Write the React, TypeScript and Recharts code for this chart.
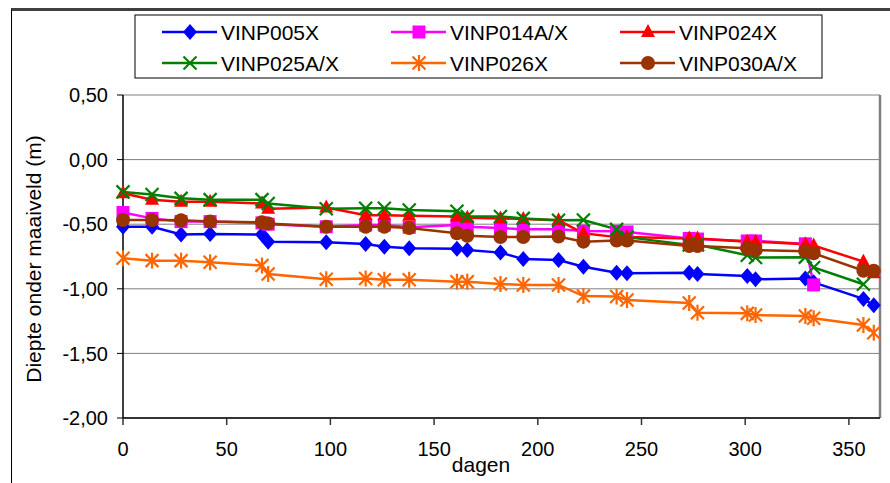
import React from 'react';
import { LineChart, Line, XAxis, YAxis, CartesianGrid, ReferenceLine, Label } from 'recharts';

// Measurement days
const days = [0, 14, 28, 42, 67, 70, 98, 117, 126, 138, 161, 166, 182, 193, 210, 222, 238, 243, 273, 277, 301, 305, 329, 333, 357, 362];

// Depth below ground level (m) per piezometer
const vinp005x = [-0.52, -0.52, -0.58, -0.575, -0.58, -0.635, -0.64, -0.653, -0.674, -0.687, -0.69, -0.7, -0.72, -0.77, -0.777, -0.829, -0.875, -0.88, -0.875, -0.885, -0.9, -0.926, -0.92, -0.95, -1.078, -1.128];
const vinp014ax = [-0.41, -0.455, -0.48, -0.48, -0.49, -0.5, -0.52, -0.506, -0.506, -0.524, -0.506, -0.52, -0.53, -0.54, -0.54, -0.553, -0.555, -0.56, -0.61, -0.615, -0.63, -0.63, -0.652, -0.97, null, null];
const vinp024x = [-0.26, -0.31, -0.326, -0.326, -0.34, -0.38, -0.37, -0.43, -0.43, -0.435, -0.44, -0.45, -0.455, -0.46, -0.47, -0.57, -0.6, -0.6, -0.61, -0.61, -0.635, -0.635, -0.655, -0.665, -0.79, -0.88];
const vinp025ax = [-0.25, -0.27, -0.3, -0.31, -0.31, -0.34, -0.38, -0.377, -0.377, -0.39, -0.4, -0.44, -0.44, -0.455, -0.47, -0.467, -0.54, -0.6, -0.66, -0.66, -0.74, -0.758, -0.755, -0.835, -0.965, null];
const vinp026x = [-0.764, -0.782, -0.782, -0.795, -0.82, -0.885, -0.926, -0.92, -0.93, -0.93, -0.945, -0.945, -0.963, -0.97, -0.97, -1.056, -1.06, -1.087, -1.11, -1.185, -1.19, -1.203, -1.21, -1.228, -1.28, -1.34];
const vinp030ax = [-0.467, -0.467, -0.47, -0.48, -0.485, -0.495, -0.52, -0.52, -0.52, -0.53, -0.57, -0.59, -0.6, -0.6, -0.595, -0.635, -0.627, -0.627, -0.669, -0.669, -0.687, -0.7, -0.71, -0.725, -0.86, -0.86];

const seriesNames = ['VINP005X', 'VINP014A/X', 'VINP024X', 'VINP025A/X', 'VINP026X', 'VINP030A/X'];
const seriesValues = [vinp005x, vinp014ax, vinp024x, vinp025ax, vinp026x, vinp030ax];
const seriesColors = ['#0000FF', '#FF00FF', '#FF0000', '#008000', '#FF6600', '#993300'];
const seriesMarkers = ['diamond', 'square', 'triangle', 'cross', 'star', 'circle'];

const xTicks = [0, 50, 100, 150, 200, 250, 300, 350];
const yTicks = [-2, -1.5, -1, -0.5, 0, 0.5];

const rows = days.map((day, i) => {
  const row: Record<string, number | null> = { day };
  seriesValues.forEach((vals, s) => {
    row['s' + s] = vals[i];
  });
  return row;
});

const FONT = 'Arial, "Liberation Sans", sans-serif';

function Marker({ kind, cx, cy, color }: { kind: string; cx: number; cy: number; color: string }) {
  switch (kind) {
    case 'diamond':
      return <polygon points={`${cx},${cy - 8} ${cx + 7},${cy} ${cx},${cy + 8} ${cx - 7},${cy}`} fill={color} />;
    case 'square':
      return <rect x={cx - 6.5} y={cy - 6.5} width={13} height={13} fill={color} />;
    case 'triangle':
      return <polygon points={`${cx},${cy - 8} ${cx + 7},${cy + 5} ${cx - 7},${cy + 5}`} fill={color} />;
    case 'cross':
      return (
        <g stroke={color} strokeWidth={2.2}>
          <line x1={cx - 6.5} y1={cy - 6.5} x2={cx + 6.5} y2={cy + 6.5} />
          <line x1={cx - 6.5} y1={cy + 6.5} x2={cx + 6.5} y2={cy - 6.5} />
        </g>
      );
    case 'star':
      return (
        <g stroke={color} strokeWidth={2.2}>
          <line x1={cx - 6.5} y1={cy - 6.5} x2={cx + 6.5} y2={cy + 6.5} />
          <line x1={cx - 6.5} y1={cy + 6.5} x2={cx + 6.5} y2={cy - 6.5} />
          <line x1={cx} y1={cy - 8} x2={cx} y2={cy + 8} />
        </g>
      );
    default:
      return <circle cx={cx} cy={cy} r={7} fill={color} />;
  }
}

const fmt = (v: number) => v.toFixed(2).replace('.', ',');

function LegendBox() {
  return (
    <svg width={700} height={70} style={{ position: 'absolute', left: 134, top: 14 }}>
      <rect x={1} y={1} width={687} height={63} fill="#fff" stroke="#000" strokeWidth={1} />
      {seriesNames.map((name, i) => {
        const col = i % 3;
        const row = Math.floor(i / 3);
        const x0 = 28 + col * 229;
        const cy = 18 + row * 31;
        return (
          <g key={name}>
            <line x1={x0} y1={cy} x2={x0 + 55} y2={cy} stroke={seriesColors[i]} strokeWidth={2.5} />
            <Marker kind={seriesMarkers[i]} cx={x0 + 28} cy={cy} color={seriesColors[i]} />
            <text x={x0 + 59} y={cy + 7.5} fontSize={21} fontFamily={FONT} fill="#000">
              {name}
            </text>
          </g>
        );
      })}
    </svg>
  );
}

export default function App() {
  return (
    <div style={{ position: 'absolute', left: 0, top: 0, width: 890, height: 483, background: '#fff', overflow: 'hidden' }}>
      <LineChart width={890} height={483} data={rows} margin={{ top: 95, right: 10, bottom: 35, left: 0 }}>
        <CartesianGrid horizontal vertical={false} stroke="#808080" strokeWidth={1} />
        <XAxis
          dataKey="day"
          type="number"
          domain={[0, 365]}
          ticks={xTicks}
          interval={0}
          height={30}
          tickSize={7}
          tickMargin={17}
          axisLine={{ stroke: '#333', strokeWidth: 2 }}
          tickLine={{ stroke: '#333', strokeWidth: 1.5 }}
          tick={{ fill: '#000', fontSize: 20, fontFamily: FONT }}
        >
          <Label
            content={() => (
              <text x={481} y={472} textAnchor="middle" fontSize={21} fontFamily={FONT} fill="#000">
                dagen
              </text>
            )}
          />
        </XAxis>
        <YAxis
          type="number"
          domain={[-2, 0.5]}
          ticks={yTicks}
          interval={0}
          width={123}
          tickSize={6}
          tickMargin={9}
          tickFormatter={fmt}
          axisLine={{ stroke: '#000', strokeWidth: 1.5 }}
          tickLine={{ stroke: '#000', strokeWidth: 1 }}
          tick={{ fill: '#000', fontSize: 20, fontFamily: FONT }}
        >
          <Label
            content={() => (
              <text
                x={41}
                y={259}
                textAnchor="middle"
                fontSize={21}
                fontFamily={FONT}
                fill="#000"
                transform="rotate(-90, 41, 259)"
              >
                Diepte onder maaiveld (m)
              </text>
            )}
          />
        </YAxis>
        <ReferenceLine x={365} stroke="#808080" strokeWidth={2.5} />
        {seriesNames.map((name, s) => (
          <Line
            key={name}
            name={name}
            dataKey={'s' + s}
            type="linear"
            stroke={seriesColors[s]}
            strokeWidth={2.5}
            isAnimationActive={false}
            activeDot={false}
            dot={(p: any) => {
              if (p.value == null || p.cx == null || p.cy == null) return <g key={`${name}-${p.index}`} />;
              return (
                <g key={`${name}-${p.index}`}>
                  <Marker kind={seriesMarkers[s]} cx={p.cx} cy={p.cy} color={seriesColors[s]} />
                </g>
              );
            }}
          />
        ))}
      </LineChart>
      <LegendBox />
      <div
        style={{
          position: 'absolute',
          left: 11,
          top: 8,
          width: 900,
          height: 500,
          borderTop: '3px solid #404040',
          borderLeft: '1.5px solid #000',
          pointerEvents: 'none',
        }}
      />
    </div>
  );
}
